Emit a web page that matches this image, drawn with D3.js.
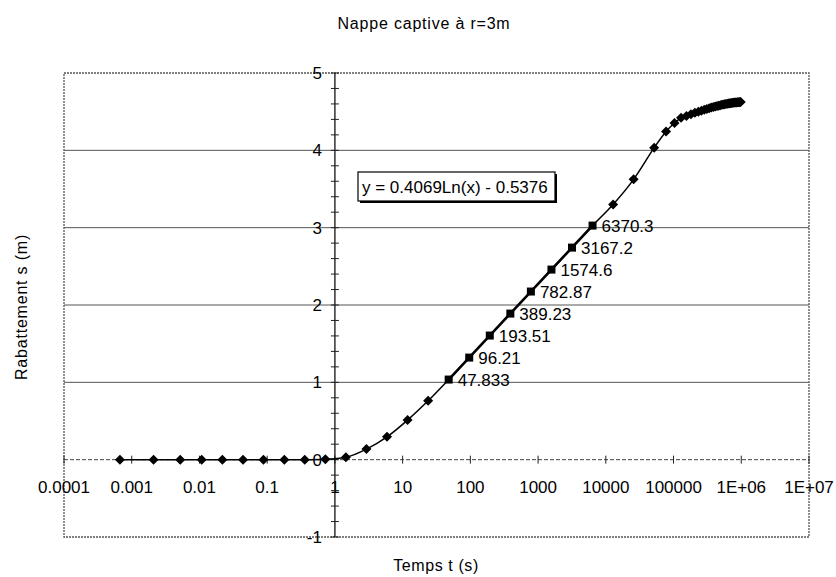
<!DOCTYPE html>
<html>
<head>
<meta charset="utf-8">
<script src="https://cdn.jsdelivr.net/npm/d3@7"></script>
<style>
  html, body { margin: 0; padding: 0; background: #fff; }
  svg { display: block; font-family: "Liberation Sans", Arial, sans-serif; }
</style>
</head>
<body>
<svg id="chart" width="836" height="577"></svg>
<script>
// Temps t (s) and rabattement s (m)
const times = [
  0.00067, 0.0021, 0.0052, 0.0108, 0.0218, 0.044, 0.088, 0.179, 0.359, 0.723,
  1.453, 2.923, 5.879, 11.82, 23.78,
  47.833, 96.21, 193.51, 389.23, 782.87, 1574.6, 3167.2, 6370.3,
  12811, 25764, 51813,
  77600, 103400, 129200, 155000, 180800, 206600, 232400, 258200, 284000,
  309800, 335600, 361400, 387200, 413000, 438800, 464600, 490400, 516200,
  542000, 567800, 593600, 619400, 645200, 671000, 696800, 722600, 748400,
  774200, 800000, 825800, 851600, 877400, 903200, 929000, 954800, 980600,
];
const drawdowns = [
  0, 0, 0, 0, 0, 0, 0, 0, 0, 0.005,
  0.03, 0.137, 0.296, 0.512, 0.761,
  1.036, 1.32, 1.605, 1.889, 2.174, 2.458, 2.742, 3.027,
  3.3, 3.625, 4.035,
  4.245, 4.353, 4.42, 4.445, 4.465, 4.485, 4.5, 4.513, 4.525,
  4.535, 4.545, 4.553, 4.56, 4.567, 4.573, 4.578, 4.583, 4.588,
  4.592, 4.596, 4.599, 4.602, 4.605, 4.608, 4.61, 4.612, 4.614,
  4.616, 4.618, 4.619, 4.62, 4.621, 4.622, 4.623, 4.624, 4.625,
];

// points used for the log trendline, with their data labels
const fitTimes = [47.833, 96.21, 193.51, 389.23, 782.87, 1574.6, 3167.2, 6370.3];
const fitLabels = ['47.833', '96.21', '193.51', '389.23', '782.87', '1574.6', '3167.2', '6370.3'];
const fitSlope = 0.4069;
const fitIntercept = -0.5376;

const xTickValues = [1e-4, 1e-3, 1e-2, 1e-1, 1, 10, 100, 1000, 1e4, 1e5, 1e6, 1e7];
const xTickLabels = ['0.0001', '0.001', '0.01', '0.1', '1', '10', '100', '1000', '10000', '100000', '1E+06', '1E+07'];
const yTickValues = [-1, 0, 1, 2, 3, 4, 5];

const svg = d3.select('#chart');
const plot = { left: 64, right: 809, top: 73, bottom: 537 };

const x = d3.scaleLog().domain([1e-4, 1e7]).range([plot.left, plot.right]);
const y = d3.scaleLinear().domain([-1, 5]).range([plot.bottom, plot.top]);

// gridlines
svg.append('g')
  .selectAll('line')
  .data(yTickValues.filter((v) => v > 0 && v < 5))
  .join('line')
  .attr('x1', plot.left)
  .attr('x2', plot.right)
  .attr('y1', (d) => y(d))
  .attr('y2', (d) => y(d))
  .attr('stroke', '#555')
  .attr('stroke-width', 1);

// dotted plot border
svg.append('rect')
  .attr('x', plot.left)
  .attr('y', plot.top)
  .attr('width', plot.right - plot.left)
  .attr('height', plot.bottom - plot.top)
  .attr('fill', 'none')
  .attr('stroke', '#555')
  .attr('stroke-width', 1.3)
  .attr('stroke-dasharray', '2,1');

// x axis at s = 0
const x0 = y(0);
svg.append('line')
  .attr('x1', plot.left)
  .attr('x2', plot.right)
  .attr('y1', x0)
  .attr('y2', x0)
  .attr('stroke', '#444')
  .attr('stroke-dasharray', '4,2');

const xTicks = x.ticks().filter((t) => t >= 1e-4 && t <= 1e7);
svg.append('g')
  .selectAll('line')
  .data(xTicks)
  .join('line')
  .attr('x1', (d) => x(d))
  .attr('x2', (d) => x(d))
  .attr('y1', x0 - 4)
  .attr('y2', x0 + 4)
  .attr('stroke', '#222')
  .attr('stroke-width', 1);

svg.append('g')
  .selectAll('text')
  .data(xTickValues)
  .join('text')
  .attr('x', (d) => x(d))
  .attr('y', 493)
  .attr('text-anchor', 'middle')
  .attr('font-size', 17)
  .attr('fill', '#000')
  .text((d, i) => xTickLabels[i]);

// y axis at t = 1
const y0 = x(1);
svg.append('line')
  .attr('x1', y0)
  .attr('x2', y0)
  .attr('y1', plot.top)
  .attr('y2', plot.bottom)
  .attr('stroke', '#111')
  .attr('stroke-width', 1.3);

svg.append('g')
  .selectAll('line')
  .data(y.ticks(30))
  .join('line')
  .attr('x1', y0 - 4)
  .attr('x2', y0 + 4)
  .attr('y1', (d) => y(d))
  .attr('y2', (d) => y(d))
  .attr('stroke', '#222')
  .attr('stroke-width', 1);

svg.append('g')
  .selectAll('text')
  .data(yTickValues)
  .join('text')
  .attr('x', y0 - 13)
  .attr('y', (d) => y(d))
  .attr('dy', '0.36em')
  .attr('text-anchor', 'end')
  .attr('font-size', 17)
  .attr('fill', '#000')
  .text((d) => d);

// trendline over the fitted range (straight in log scale)
const fitExtent = d3.extent(fitTimes);
svg.append('line')
  .attr('x1', x(fitExtent[0]))
  .attr('x2', x(fitExtent[1]))
  .attr('y1', y(fitSlope * Math.log(fitExtent[0]) + fitIntercept))
  .attr('y2', y(fitSlope * Math.log(fitExtent[1]) + fitIntercept))
  .attr('stroke', '#000')
  .attr('stroke-width', 2.6);

// smoothed data line
const points = times.map((t, i) => ({ t, s: drawdowns[i], fit: fitTimes.includes(t) }));
const line = d3.line()
  .x((d) => x(d.t))
  .y((d) => y(d.s))
  .curve(d3.curveCatmullRom.alpha(0.5));

svg.append('path')
  .datum(points)
  .attr('d', line)
  .attr('fill', 'none')
  .attr('stroke', '#000')
  .attr('stroke-width', 1.5);

// diamond markers
svg.append('g')
  .selectAll('path')
  .data(points.filter((d) => !d.fit))
  .join('path')
  .attr('transform', (d) => `translate(${x(d.t)},${y(d.s)})`)
  .attr('d', 'M0,-5L5,0L0,5L-5,0Z')
  .attr('fill', '#000');

// square markers on the fitted points
svg.append('g')
  .selectAll('rect')
  .data(points.filter((d) => d.fit))
  .join('rect')
  .attr('x', (d) => x(d.t) - 4)
  .attr('y', (d) => y(d.s) - 4)
  .attr('width', 8)
  .attr('height', 8)
  .attr('fill', '#000');

// data labels with the time values
svg.append('g')
  .selectAll('text')
  .data(points.filter((d) => d.fit))
  .join('text')
  .attr('x', (d) => x(d.t) + 9)
  .attr('y', (d) => y(d.s))
  .attr('dy', '0.36em')
  .attr('font-size', 17)
  .attr('fill', '#000')
  .text((d) => fitLabels[fitTimes.indexOf(d.t)]);

// equation box
const eq = svg.append('g');
eq.append('rect')
  .attr('x', 360)
  .attr('y', 174)
  .attr('width', 197)
  .attr('height', 29)
  .attr('fill', '#000');
eq.append('rect')
  .attr('x', 358)
  .attr('y', 172)
  .attr('width', 197)
  .attr('height', 29)
  .attr('fill', '#fff')
  .attr('stroke', '#000')
  .attr('stroke-width', 1.2);
eq.append('text')
  .attr('x', 362)
  .attr('y', 193)
  .attr('font-size', 17)
  .attr('fill', '#000')
  .text(`y = ${fitSlope}Ln(x) - ${Math.abs(fitIntercept)}`);

// titles
svg.append('text')
  .attr('x', 424)
  .attr('y', 29)
  .attr('text-anchor', 'middle')
  .attr('font-size', 16)
  .attr('letter-spacing', 0.8)
  .text('Nappe captive à r=3m');

svg.append('text')
  .attr('x', 436)
  .attr('y', 571)
  .attr('text-anchor', 'middle')
  .attr('font-size', 16)
  .attr('letter-spacing', 0.6)
  .text('Temps t (s)');

svg.append('text')
  .attr('transform', 'translate(27,307) rotate(-90)')
  .attr('text-anchor', 'middle')
  .attr('font-size', 16)
  .attr('letter-spacing', 0.8)
  .text('Rabattement s (m)');
</script>
</body>
</html>
